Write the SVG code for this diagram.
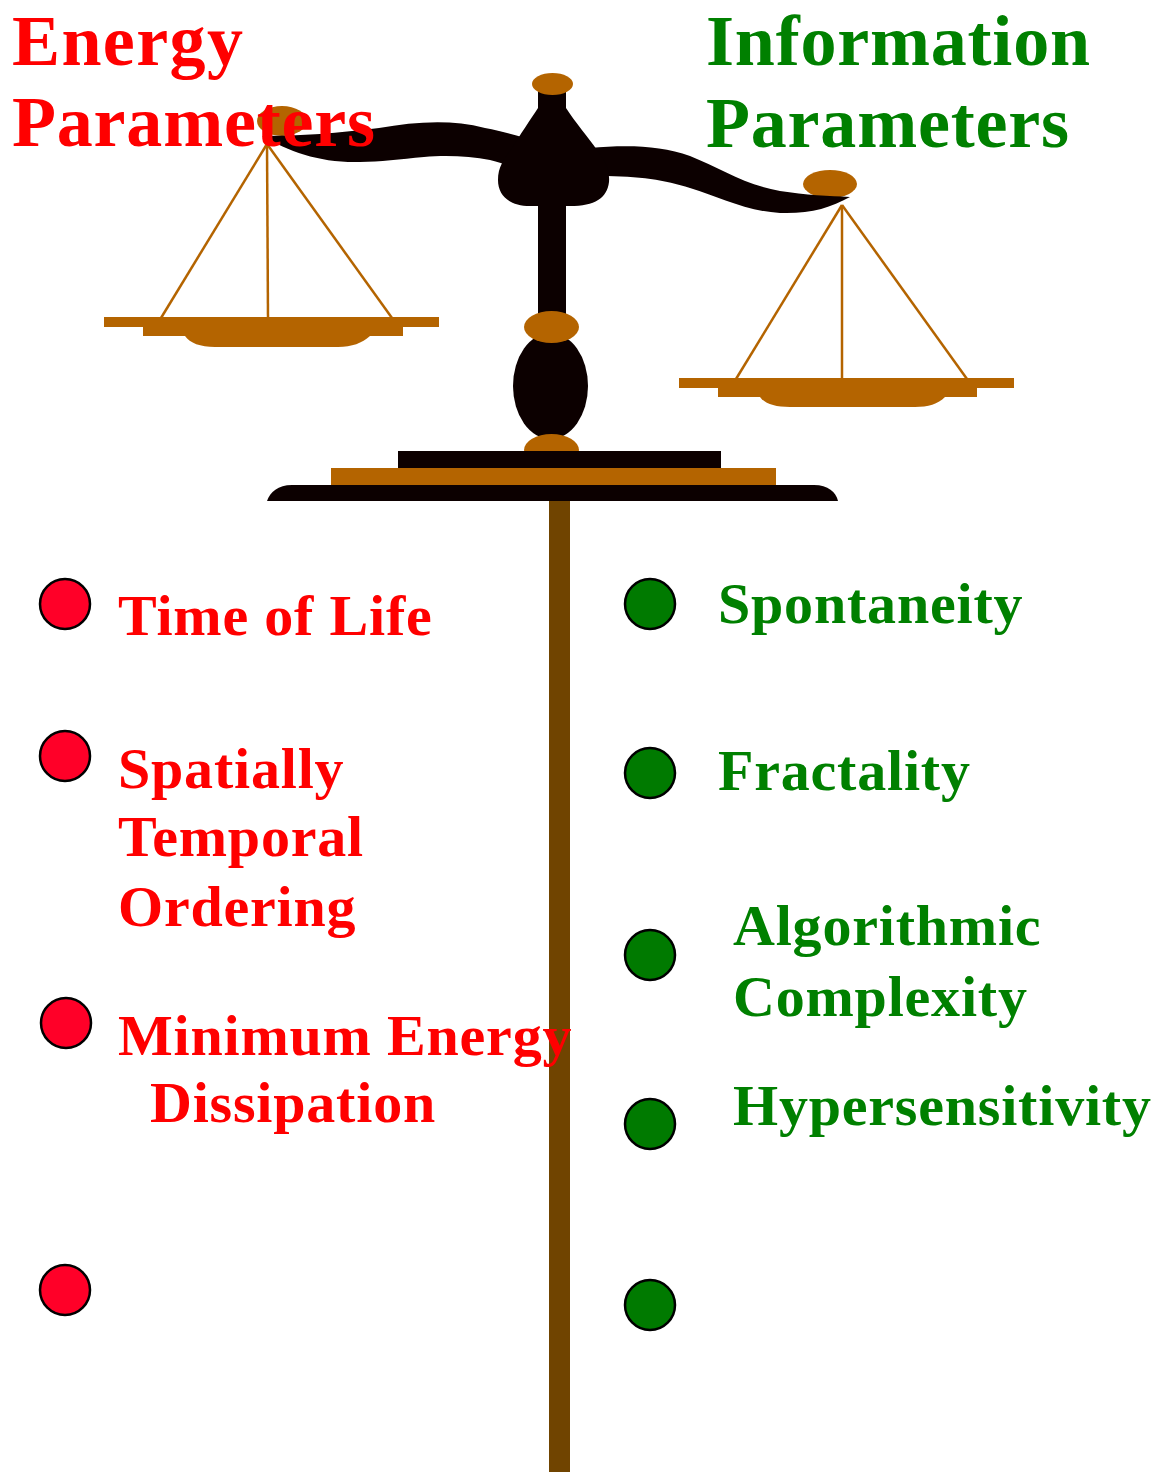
<svg xmlns="http://www.w3.org/2000/svg" width="1159" height="1472" viewBox="0 0 1159 1472">
  <style>
    .dark { fill: #0c0000; }
    .brass { fill: #b46400; }
    .string { stroke: #b46400; stroke-width: 2.5; fill: none; }
    .title { font-family: "Liberation Serif", "Times New Roman", serif; font-weight: bold; font-size: 72px; }
    .item { font-family: "Liberation Serif", "Times New Roman", serif; font-weight: bold; font-size: 58px; letter-spacing: 0.8px; }
    .red { fill: #ff0000; }
    .green { fill: #008000; }
    .dot-red { fill: #ff0028; stroke: #000; stroke-width: 2.5; }
    .dot-green { fill: #007a00; stroke: #000; stroke-width: 2.5; }
  </style>

  <rect width="1159" height="1472" fill="#ffffff"/>

  <!-- central pole -->
  <rect id="pole" x="549" y="501" width="21" height="971" fill="#704400"/>

  <!-- balance scale -->
  <g id="scale">
    <!-- pan holders at the beam ends -->
    <ellipse class="brass" cx="282" cy="121" rx="25" ry="15"/>
    <ellipse class="brass" cx="830" cy="184" rx="27" ry="14"/>

    <!-- upright stem and finial -->
    <rect class="dark" x="538" y="90" width="28" height="240"/>
    <ellipse class="brass" cx="552.5" cy="84" rx="20.5" ry="11"/>

    <!-- beam -->
    <path class="dark" d="M 262,136 C 300,136 340,133 379,128 C 415,122 450,119 485,128 C 500,131 512,134 525,138 L 525,172 C 515,168 505,164 490,160 C 470,156 445,155 424,157 C 400,159 380,162 360,162 C 320,163 290,152 262,136 Z"/>
    <path class="dark" d="M 590,148 C 625,145 660,145 690,156 C 720,168 745,185 780,191 C 805,195 830,196 850,197 C 830,208 810,214 780,213 C 745,211 720,197 690,188 C 665,180 640,176 600,176 Z"/>
    <!-- hub -->
    <path class="dark" d="M 538,108 L 566,108 C 575,122 588,137 597,150 C 604,160 610,168 609,182 C 607,198 595,206 570,206 L 530,206 C 510,206 498,196 498,180 C 498,166 505,158 512,148 C 520,135 530,120 538,108 Z"/>

    <!-- lower column -->
    <ellipse class="dark" cx="550.5" cy="386" rx="37.5" ry="53"/>
    <ellipse class="brass" cx="551.5" cy="327" rx="27.5" ry="16"/>
    <ellipse class="brass" cx="551.5" cy="450" rx="27.5" ry="16"/>

    <!-- base -->
    <rect class="dark" x="398" y="451" width="323" height="17"/>
    <rect class="brass" x="331" y="468" width="445" height="17"/>
    <path class="dark" d="M 267,501 C 270,492 278,485 292,485 L 814,485 C 828,485 836,492 838,501 Z"/>

    <!-- left pan -->
    <g id="pan-left">
      <line class="string" x1="267" y1="144" x2="161" y2="318"/>
      <line class="string" x1="267" y1="144" x2="268" y2="318"/>
      <line class="string" x1="267" y1="144" x2="392" y2="318"/>
      <rect class="brass" x="104" y="317" width="335" height="10"/>
      <rect class="brass" x="143" y="327" width="260" height="9"/>
      <path class="brass" d="M 185,336 L 370,336 C 362,343 352,347 338,347 L 215,347 C 200,347 190,343 185,336 Z"/>
    </g>

    <!-- right pan -->
    <g id="pan-right">
      <line class="string" x1="842" y1="205" x2="736" y2="379"/>
      <line class="string" x1="842" y1="205" x2="842" y2="379"/>
      <line class="string" x1="842" y1="205" x2="967" y2="379"/>
      <rect class="brass" x="679" y="378" width="335" height="10"/>
      <rect class="brass" x="718" y="388" width="259" height="9"/>
      <path class="brass" d="M 760,397 L 945,397 C 938,404 928,407 915,407 L 790,407 C 775,407 765,404 760,397 Z"/>
    </g>
  </g>

  <!-- headings -->
  <g id="energy-title">
    <text class="title red" x="12" y="65" textLength="231" lengthAdjust="spacing">Energy</text>
    <text class="title red" x="12" y="146" textLength="363" lengthAdjust="spacing">Parameters</text>
  </g>
  <g id="information-title">
    <text class="title green" x="706" y="65" textLength="384" lengthAdjust="spacing">Information</text>
    <text class="title green" x="706" y="147" textLength="363" lengthAdjust="spacing">Parameters</text>
  </g>

  <!-- energy parameters -->
  <g id="energy-time-of-life">
    <circle class="dot-red" cx="65" cy="604" r="25"/>
    <text class="item red" x="118" y="635">Time of Life</text>
  </g>
  <g id="energy-ordering">
    <circle class="dot-red" cx="65" cy="756" r="25"/>
    <text class="item red" x="118" y="788">Spatially</text>
    <text class="item red" x="118" y="856">Temporal</text>
    <text class="item red" x="118" y="926">Ordering</text>
  </g>
  <g id="energy-dissipation">
    <circle class="dot-red" cx="66" cy="1023" r="25"/>
    <text class="item red" x="118" y="1055">Minimum Energy</text>
    <text class="item red" x="150" y="1122">Dissipation</text>
  </g>
  <g id="energy-blank">
    <circle class="dot-red" cx="65" cy="1290" r="25"/>
  </g>

  <!-- information parameters -->
  <g id="info-spontaneity">
    <circle class="dot-green" cx="650" cy="604" r="25"/>
    <text class="item green" x="718" y="623">Spontaneity</text>
  </g>
  <g id="info-fractality">
    <circle class="dot-green" cx="650" cy="773" r="25"/>
    <text class="item green" x="718" y="790">Fractality</text>
  </g>
  <g id="info-complexity">
    <circle class="dot-green" cx="650" cy="955" r="25"/>
    <text class="item green" x="733" y="945">Algorithmic</text>
    <text class="item green" x="733" y="1016">Complexity</text>
  </g>
  <g id="info-hypersensitivity">
    <circle class="dot-green" cx="650" cy="1124" r="25"/>
    <text class="item green" x="733" y="1125">Hypersensitivity</text>
  </g>
  <g id="info-blank">
    <circle class="dot-green" cx="650" cy="1305" r="25"/>
  </g>
</svg>
